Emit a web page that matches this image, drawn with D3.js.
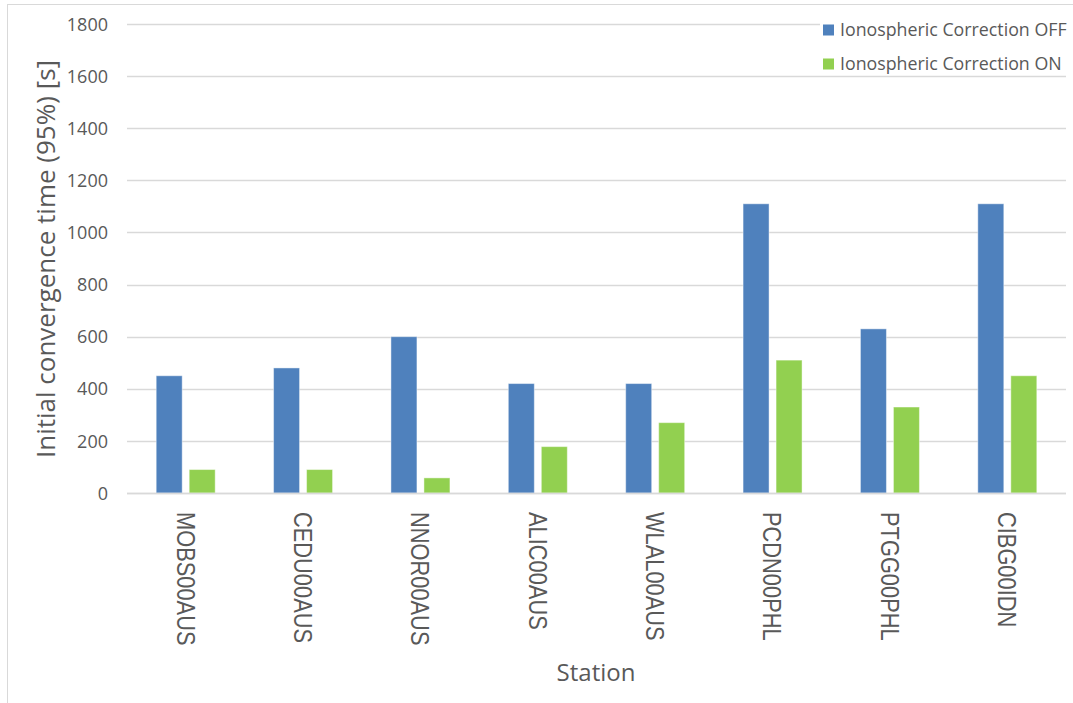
<!DOCTYPE html>
<html><head><meta charset="utf-8">
<script src="https://cdn.jsdelivr.net/npm/d3@7"></script>
<style>html,body{margin:0;padding:0;background:#fff;}svg{display:block;}</style>
</head><body>
<svg id="chart" width="1073" height="703"></svg>
<script>
const stations = ["MOBS00AUS","CEDU00AUS","NNOR00AUS","ALIC00AUS","WLAL00AUS","PCDN00PHL","PTGG00PHL","CIBG00IDN"];
const seriesNames = ["Ionospheric Correction OFF","Ionospheric Correction ON"];
const offValues = [450,480,600,420,420,1110,630,1110];
const onValues = [90,90,58,178,270,510,330,450];
const yTicks = [0,200,400,600,800,1000,1200,1400,1600,1800];
const colors = ["#4F81BD","#92D050"];

const svg = d3.select("#chart");
const textColor = "#595959";
const plotLeft = 127, plotRight = 1066, plotTop = 24, plotBottom = 493;

svg.append("rect").attr("x",7.5).attr("y",4.5).attr("width",1090).attr("height",720)
  .attr("fill","#fff").attr("stroke","#D9D9D9").attr("stroke-width",1);

const x = d3.scaleBand().domain(stations).range([plotLeft,plotRight]).paddingInner(0).paddingOuter(0);
const y = d3.scaleLinear().domain([0,1800]).range([plotBottom,plotTop]);

// gridlines
svg.append("g").selectAll("line").data(yTicks).join("line")
  .attr("x1",plotLeft).attr("x2",plotRight)
  .attr("y1",d=>Math.round(y(d))+0.5).attr("y2",d=>Math.round(y(d))+0.5)
  .attr("stroke","#D9D9D9").attr("stroke-width",1.3);

// y tick labels
const yAxis = d3.axisLeft(y).tickValues(yTicks).tickFormat(d3.format("d")).tickSize(0).tickPadding(0);
const yg = svg.append("g").attr("transform",`translate(${108},0)`).call(yAxis);
yg.select(".domain").remove();
yg.selectAll("text").attr("fill",textColor).style("font-family","'Open Sans', sans-serif").style("font-size","18px").attr("dy","0.34em");

// bars
const bw = 26, gap = 7;
const groups = svg.append("g");
const data = stations.map((s,i)=>({s, vals:[offValues[i], onValues[i]]}));
data.forEach(d=>{
  const cx = x(d.s) + x.bandwidth()/2;
  d.vals.forEach((v,j)=>{
    const bx = j===0 ? cx - gap/2 - bw : cx + gap/2;
    groups.append("rect")
      .attr("x",bx).attr("y",y(v)).attr("width",bw).attr("height",y(0)-y(v))
      .attr("fill",colors[j]).attr("stroke","#fff").attr("stroke-opacity",0.45).attr("stroke-width",1);
  });
});

// baseline
svg.append("line").attr("x1",plotLeft).attr("x2",plotRight).attr("y1",y(0)+0.5).attr("y2",y(0)+0.5)
  .attr("stroke","#D9D9D9").attr("stroke-width",1.3);

// x labels rotated
const xg = svg.append("g");
stations.forEach(s=>{
  const cx = x(s) + x.bandwidth()/2;
  xg.append("text").text(s)
    .attr("transform",`translate(${cx},512) rotate(90) scale(0.84,1)`)
    .attr("x",0).attr("y",0).attr("dy","0.35em")
    .attr("text-anchor","start")
    .attr("fill",textColor)
    .style("font-family","'Liberation Sans', Arial, sans-serif")
    .style("font-size","26px");
});

// axis titles
svg.append("text").text("Station").attr("x",596).attr("y",681).attr("text-anchor","middle")
  .attr("fill",textColor).style("font-family","'Open Sans', sans-serif").style("font-size","24px");
svg.append("text").text("Initial convergence time (95%) [s]")
  .attr("transform","translate(55,259) rotate(-90)").attr("text-anchor","middle")
  .attr("fill",textColor).style("font-family","'Open Sans', sans-serif").style("font-size","26px");

// legend
const lg = svg.append("g");
lg.append("rect").attr("x",820).attr("y",14).attr("width",250).attr("height",60).attr("fill","#fff");
seriesNames.forEach((n,i)=>{
  const cy = 30 + i*34;
  lg.append("rect").attr("x",823).attr("y",cy-5.5).attr("width",11).attr("height",11).attr("fill",colors[i]);
  lg.append("text").text(n).attr("x",840).attr("y",cy).attr("dy","0.35em")
    .attr("fill",textColor).style("font-family","'Open Sans', sans-serif").style("font-size","17.8px");
});
</script>
</body></html>
